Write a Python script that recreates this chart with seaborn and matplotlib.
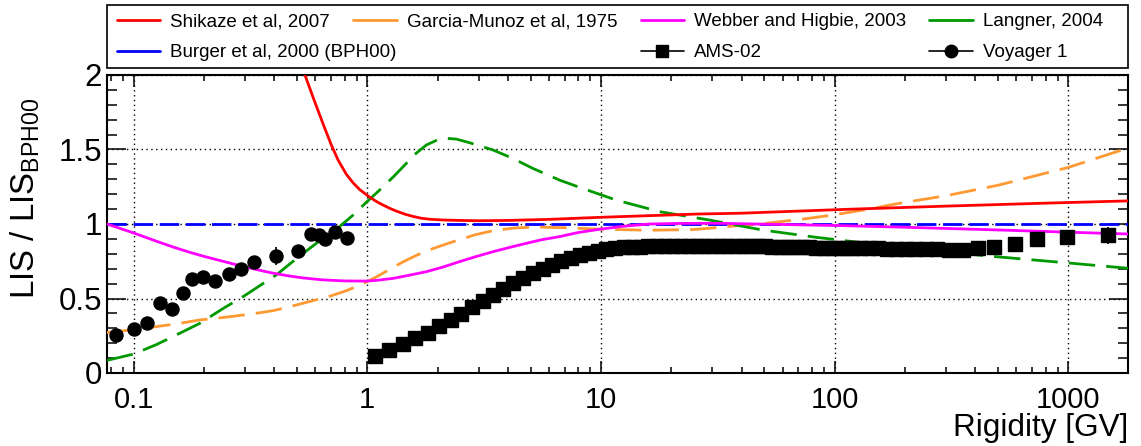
import numpy as np
import pandas as pd
import matplotlib
matplotlib.use("Agg")
import matplotlib.pyplot as plt
from matplotlib.lines import Line2D
from matplotlib.patches import Rectangle
from matplotlib.ticker import FixedLocator, FixedFormatter, NullFormatter, MultipleLocator, LogLocator
import seaborn as sns

# ---------------- data ----------------
shikaze_R = [0.50, 0.52, 0.54, 0.585, 0.646, 0.70, 0.75, 0.813, 0.87, 0.927, 1.02, 1.1, 1.166, 1.25,
             1.33, 1.45, 1.567, 1.7, 1.85, 2.1, 2.5, 3.0, 4.0, 6.0, 10, 26, 39, 115, 300, 800, 1800]
shikaze_V = [2.15, 2.075, 2.005, 1.855, 1.675, 1.535, 1.43, 1.335, 1.276, 1.232, 1.182, 1.149, 1.128,
             1.105, 1.087, 1.066, 1.051, 1.039, 1.032, 1.027, 1.024, 1.022, 1.024, 1.031, 1.045, 1.067,
             1.072, 1.099, 1.12, 1.14, 1.155]

garcia_R = [0.077, 0.1, 0.125, 0.16, 0.192, 0.24, 0.294, 0.35, 0.4, 0.497, 0.6, 0.7, 0.8, 0.9, 1.0,
            1.13, 1.25, 1.42, 1.65, 1.91, 2.2, 2.48, 2.9, 3.45, 4.2, 5.1, 7.1, 10, 16.1, 25, 31, 39,
            50.9, 75, 98, 140, 189, 300, 500, 1000, 1800]
garcia_V = [0.272, 0.29, 0.311, 0.335, 0.356, 0.372, 0.389, 0.405, 0.42, 0.456, 0.49, 0.518, 0.548,
            0.58, 0.613, 0.657, 0.697, 0.745, 0.795, 0.835, 0.868, 0.895, 0.928, 0.955, 0.972, 0.98,
            0.975, 0.965, 0.958, 0.963, 0.975, 0.99, 1.005, 1.035, 1.06, 1.10, 1.139, 1.19, 1.26,
            1.38, 1.51]

webber_R = [0.077, 0.1, 0.125, 0.148, 0.174, 0.2, 0.241, 0.294, 0.35, 0.395, 0.46, 0.531, 0.646, 0.8,
            0.99, 1.1, 1.29, 1.5, 1.79, 2.1, 2.48, 2.9, 3.45, 4.0, 4.78, 5.6, 6.64, 8.0, 9.8, 12.5,
            16.1, 22, 31, 108, 202, 500, 1000, 1800]
webber_V = [1.0, 0.94, 0.885, 0.845, 0.81, 0.783, 0.75, 0.715, 0.688, 0.67, 0.652, 0.638, 0.625,
            0.618, 0.617, 0.622, 0.635, 0.655, 0.680, 0.71, 0.747, 0.78, 0.814, 0.84, 0.870, 0.895,
            0.915, 0.943, 0.964, 0.985, 1.0, 1.004, 1.005, 0.989, 0.978, 0.96, 0.945, 0.933]

langner_R = [0.077, 0.1, 0.125, 0.15, 0.192, 0.24, 0.294, 0.35, 0.408, 0.5, 0.605, 0.761, 0.87, 0.99,
             1.13, 1.3, 1.47, 1.62, 1.79, 2.0, 2.18, 2.4, 2.65, 3.0, 3.45, 4.2, 5.1, 6.64, 8.1, 11.6,
             17.8, 29, 49, 83, 108, 200, 456, 1040, 1800]
langner_V = [0.085, 0.127, 0.19, 0.25, 0.333, 0.43, 0.512, 0.59, 0.658, 0.77, 0.870, 0.982, 1.06,
             1.145, 1.228, 1.32, 1.407, 1.475, 1.53, 1.565, 1.575, 1.57, 1.552, 1.527, 1.497, 1.44,
             1.374, 1.295, 1.246, 1.161, 1.083, 1.027, 0.96, 0.911, 0.89, 0.84, 0.785, 0.736, 0.703]

burger_R = [0.077, 1800]
burger_V = [1.0, 1.0]

ams_R = [1.077, 1.242, 1.417, 1.607, 1.812, 2.032, 2.272, 2.531, 2.816, 3.126, 3.461, 3.825, 4.220,
         4.650, 5.119, 5.629, 6.178, 6.773, 7.418, 8.112, 8.861, 9.671, 10.54, 11.49, 12.49, 13.54,
         14.69, 15.94, 17.29, 18.73, 20.28, 21.93, 23.73, 25.68, 27.73, 29.93, 32.28, 34.78, 37.47,
         40.37, 43.47, 46.77, 50.32, 54.11, 58.16, 62.51, 67.21, 72.25, 77.65, 83.45, 89.69, 96.44,
         103.9, 111.9, 120.4, 129.9, 140.9, 153.4, 167.3, 183.3, 201.3, 221.7, 245.7, 274.5, 309.9,
         353.7, 408.8, 481.2, 588.6, 736, 984, 1472]
ams_V = [0.114, 0.154, 0.195, 0.233, 0.271, 0.315, 0.356, 0.396, 0.441, 0.485, 0.523, 0.564, 0.602,
         0.635, 0.669, 0.698, 0.725, 0.75, 0.772, 0.792, 0.808, 0.822, 0.832, 0.838, 0.843, 0.846,
         0.848, 0.850, 0.851, 0.852, 0.853, 0.853, 0.854, 0.854, 0.854, 0.854, 0.853, 0.853, 0.852,
         0.852, 0.851, 0.850, 0.849, 0.848, 0.847, 0.846, 0.845, 0.844, 0.843, 0.842, 0.841, 0.840,
         0.840, 0.839, 0.838, 0.837, 0.838, 0.836, 0.835, 0.834, 0.835, 0.833, 0.832, 0.831, 0.828,
         0.826, 0.837, 0.843, 0.864, 0.897, 0.911, 0.924]
ams_E = [0.005] * 66 + [0.008, 0.01, 0.012, 0.015, 0.03, 0.055]

voy_R = [0.084, 0.100, 0.1147, 0.130, 0.1467, 0.163, 0.178, 0.198, 0.223, 0.256, 0.289, 0.329, 0.408,
         0.508, 0.574, 0.621, 0.659, 0.725, 0.818]
voy_V = [0.255, 0.293, 0.338, 0.468, 0.427, 0.535, 0.629, 0.646, 0.617, 0.662, 0.696, 0.743, 0.785,
         0.821, 0.931, 0.926, 0.899, 0.948, 0.908]
voy_E = [0.015, 0.015, 0.015, 0.015, 0.015, 0.015, 0.015, 0.015, 0.015, 0.015, 0.015, 0.02, 0.06,
         0.02, 0.02, 0.02, 0.02, 0.02, 0.02]

x_ticks = [0.1, 1, 10, 100, 1000]
x_tick_labels = ["0.1", "1", "10", "100", "1000"]
y_ticks = [0, 0.5, 1, 1.5, 2]
y_tick_labels = ["0", "0.5", "1", "1.5", "2"]

labels = ["Shikaze et al, 2007", "Garcia-Munoz et al, 1975", "Webber and Higbie, 2003",
          "Langner, 2004", "Burger et al, 2000 (BPH00)", "AMS-02", "Voyager 1"]

# ---------------- style ----------------
sns.set_theme(style="ticks")
plt.rcParams['font.family'] = ['Liberation Sans', 'DejaVu Sans']
plt.rcParams['mathtext.fontset'] = 'custom'
plt.rcParams['mathtext.rm'] = 'Liberation Sans'
plt.rcParams['mathtext.it'] = 'Liberation Sans:italic'
plt.rcParams['mathtext.bf'] = 'Liberation Sans:bold'
plt.rcParams['text.color'] = 'black'
plt.rcParams['axes.labelcolor'] = 'black'
plt.rcParams['xtick.color'] = 'black'
plt.rcParams['ytick.color'] = 'black'

W, H = 1141, 446
fig = plt.figure(figsize=(W / 100, H / 100), dpi=100)
L, R_, T, B = 107, 1128, 75, 373
ax = fig.add_axes([L / W, 1 - B / H, (R_ - L) / W, (B - T) / H])
ax.set_xscale('log')
ax.set_xlim(0.077, 1800)
ax.set_ylim(0, 2)

C_RED, C_ORG, C_MAG, C_GRN, C_BLU = '#FF0000', '#FF9933', '#FF00FF', '#009900', '#0000FF'
LW = 2.0

def curve(xs, ys, color, ls):
    df = pd.DataFrame({"R": xs, "V": ys})
    sns.lineplot(data=df, x="R", y="V", ax=ax, color=color, linewidth=LW, linestyle=ls,
                 estimator=None, sort=False, zorder=3)

curve(burger_R, burger_V, C_BLU, (0, (7.0, 2.4)))
curve(garcia_R, garcia_V, C_ORG, (0, (9.5, 4.0)))
curve(langner_R, langner_V, C_GRN, (0, (9.5, 4.0)))
curve(webber_R, webber_V, C_MAG, '-')
curve(shikaze_R, shikaze_V, C_RED, '-')

ax.errorbar(ams_R, ams_V, yerr=ams_E, fmt='s', color='black', ms=9.4, elinewidth=1.2, capsize=0, zorder=5)
ax.errorbar(voy_R, voy_V, yerr=voy_E, fmt='o', color='black', ms=9.4, elinewidth=1.2, capsize=0, zorder=5)

# ---------------- axes ----------------
ax.xaxis.set_major_locator(FixedLocator(x_ticks))
ax.xaxis.set_major_formatter(FixedFormatter(x_tick_labels))
ax.xaxis.set_minor_locator(LogLocator(base=10, subs=np.arange(2, 10)))
ax.xaxis.set_minor_formatter(NullFormatter())
ax.yaxis.set_major_locator(FixedLocator(y_ticks))
ax.yaxis.set_major_formatter(FixedFormatter(y_tick_labels))
ax.yaxis.set_minor_locator(MultipleLocator(0.1))

ax.tick_params(axis='both', which='both', direction='in', top=True, right=True, width=1.1, colors='black')
ax.tick_params(axis='x', which='major', length=8.6, pad=9.5, labelsize=21)
ax.tick_params(axis='x', which='minor', length=4.5)
ax.tick_params(axis='y', which='major', length=14, pad=3.6, labelsize=22.5)
ax.tick_params(axis='y', which='minor', length=7.2)
for s in ax.spines.values():
    s.set_linewidth(1.5)
    s.set_color('black')

ax.grid(True, which='major', color='black', linestyle=(0, (1, 2.5)), linewidth=1.0)
ax.set_axisbelow(True)

ax.set_xlabel('Rigidity [GV]', fontsize=22.7, ha='right', va='top')
ax.xaxis.set_label_coords(1.0, -0.133)
ax.set_ylabel(r'LIS / LIS$_{\mathrm{BPH00}}$', fontsize=23.8, va='bottom', ha='center')
ax.yaxis.set_label_coords(-0.064, 0.587)

# ---------------- legend ----------------
h_shik = Line2D([], [], color=C_RED, lw=LW)
h_garc = Line2D([], [], color=C_ORG, lw=LW)
h_webb = Line2D([], [], color=C_MAG, lw=LW)
h_lang = Line2D([], [], color=C_GRN, lw=LW)
h_burg = Line2D([], [], color=C_BLU, lw=LW)
h_ams = Line2D([], [], color='black', lw=1.2, marker='s', ms=9)
h_voy = Line2D([], [], color='black', lw=1.2, marker='o', ms=9)
blank = Line2D([], [], color='none', lw=0)

# outer legend frame
fig.add_artist(Rectangle((L / W, 1 - 68 / H), (R_ - L) / W, 63 / H, transform=fig.transFigure,
                         facecolor='white', edgecolor='black', linewidth=1.2, zorder=4))

FS = 13.5
BP = 0.48
pad_px = BP * FS * 100 / 72
leg_kw = dict(fontsize=FS, handlelength=2.3, handletextpad=0.55, borderpad=BP,
              labelspacing=0.75, borderaxespad=0.0, frameon=False)
x0 = 117 - pad_px
box = (x0 / W, 1 - 67 / H, (986 + 2 * pad_px) / W, 63 / H)
legA = fig.legend([h_shik, blank, h_garc, blank, h_webb, h_ams, h_lang, h_voy],
                  [labels[0], '', labels[1], '', labels[2], labels[5], labels[3], labels[6]],
                  ncol=4, mode='expand', loc='upper left', bbox_to_anchor=box, **leg_kw)
legB = fig.legend([blank, h_burg], ['', labels[4]], ncol=1, loc='upper left',
                  bbox_to_anchor=box, **leg_kw)
legA.set_zorder(6)
legB.set_zorder(6)

fig.savefig('out.png', dpi=100)
